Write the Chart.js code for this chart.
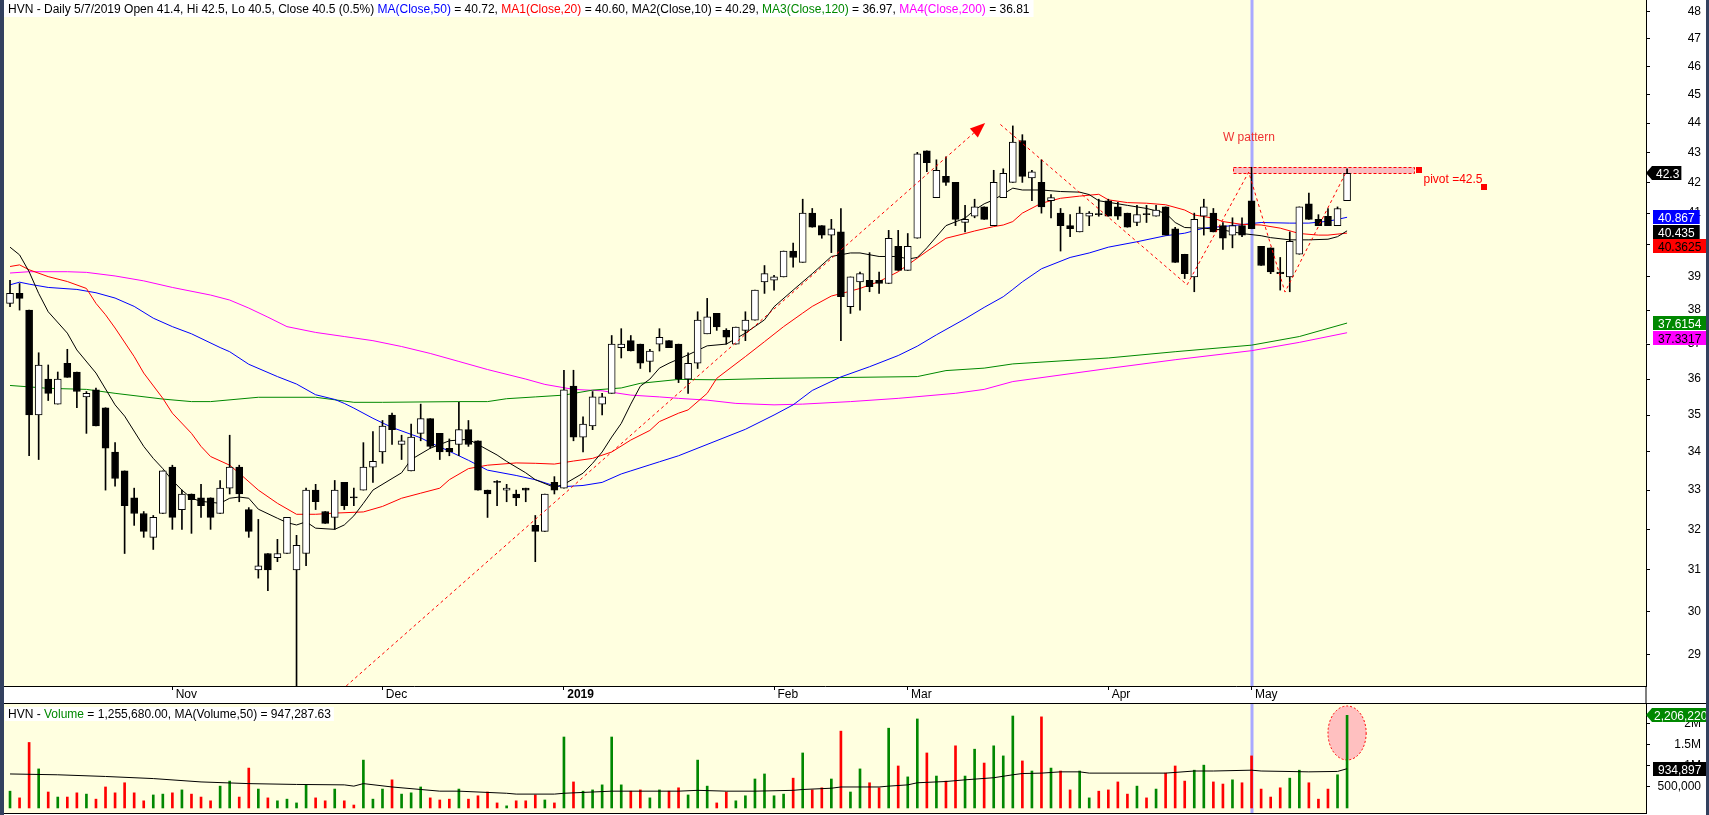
<!DOCTYPE html>
<html><head><meta charset="utf-8">
<script src="https://cdn.jsdelivr.net/npm/chart.js@4.4.1/dist/chart.umd.min.js"></script>
<style>
html,body{margin:0;padding:0;background:#ffffff;overflow:hidden;}
#wrap{position:relative;width:1709px;height:815px;background:#fff;}
#c1{position:absolute;left:0;top:0;}
#c2{position:absolute;left:0;top:703px;}
</style></head><body>
<div id="wrap">
<canvas id="c1" width="1709" height="703"></canvas>
<canvas id="c2" width="1709" height="112"></canvas>
</div>
<script>
// ---------------- DATA (HVN daily, trading-day index 0..140) ----------------
const O = [38.2,38.5,38.0,35.0,36.0,35.3,36.45,36.2,35.5,35.7,
35.2,34.0,33.5,32.8,32.4,31.8,32.4,33.6,32.5,32.9,
32.8,32.8,32.4,33.05,33.6,32.5,31.0,31.4,31.3,31.4,
31.0,31.4,33.0,32.45,32.3,33.2,32.8,33.0,33.6,34.0,
35.0,34.2,33.5,34.5,34.9,34.5,34.1,34.2,34.6,34.3,
33.0,33.2,33.0,32.9,33.05,32.1,31.95,33.2,33.05,35.8,
34.4,34.7,35.3,35.6,36.9,37.1,37.0,36.5,37.0,37.1,
37.0,36.0,36.45,37.3,37.9,37.4,37.0,37.4,37.7,38.85,
38.9,39.0,39.8,39.45,41.0,40.6,40.3,40.4,38.1,38.85,
38.9,38.9,38.8,39.95,39.2,40.2,43.05,41.5,42.2,42.0,
40.7,40.9,41.2,40.6,41.5,42.0,43.4,42.15,42.0,41.4,
41.0,40.6,40.4,40.9,40.95,41.4,41.2,41.0,40.7,40.95,
40.9,41.2,40.5,39.7,39.0,40.9,41.0,40.6,40.3,40.6,
41.4,39.95,39.9,39.15,39.0,39.7,41.3,40.8,40.9,40.6,
41.4];
const H = [38.9,38.8,38.0,36.75,36.4,36.2,36.85,36.2,35.65,35.75,
35.2,34.25,33.5,33.05,32.45,32.35,33.5,33.65,33.0,32.9,
33.15,32.8,33.25,34.45,33.65,32.55,32.25,31.4,31.75,32.3,
31.85,33.05,33.15,32.45,33.25,33.2,33.05,34.25,34.55,34.85,
35.05,34.45,34.75,35.3,34.9,34.5,34.35,35.35,34.85,34.3,
33.0,33.25,33.15,33.0,33.05,32.35,32.9,33.35,36.25,36.25,
34.95,35.65,35.6,37.25,37.45,37.25,37.0,36.85,37.45,37.1,
37.0,36.75,37.95,38.35,37.9,37.45,37.5,37.95,38.6,39.35,
39.05,39.8,40.05,41.45,41.15,40.6,40.8,41.15,39.0,39.15,
39.75,39.15,40.45,40.45,40.35,43.0,43.05,42.75,42.85,42.0,
41.25,41.45,41.2,42.4,42.45,43.9,43.6,42.4,42.75,41.6,
41.15,40.95,41.2,41.05,41.45,41.45,41.35,41.0,41.25,41.25,
41.25,41.2,40.55,39.7,41.0,41.45,41.15,40.7,40.85,40.85,
42.5,39.95,39.9,39.6,40.4,41.2,41.65,40.95,41.15,41.2,
42.45];
const L = [38.1,38.0,33.9,33.8,35.4,35.3,36.05,35.2,34.5,34.7,
33.0,33.1,31.4,32.1,31.8,31.5,32.4,32.0,32.0,31.9,
32.3,32.0,32.4,32.9,32.7,31.8,30.8,30.5,31.2,31.4,
28.0,31.1,32.5,32.15,32.0,32.5,32.6,33.0,33.2,33.7,
34.2,33.8,33.5,34.3,34.1,33.8,33.9,33.9,34.15,33.0,
32.3,32.6,32.7,32.6,32.7,31.2,31.95,32.9,33.05,34.3,
34.0,34.6,35.0,35.6,36.6,36.8,36.3,36.2,36.8,36.9,
35.9,35.6,36.3,37.3,37.4,37.0,37.0,37.1,37.7,38.5,
38.6,39.0,39.3,39.45,40.55,40.2,39.75,37.1,37.9,38.0,
38.55,38.5,38.8,39.2,39.2,40.2,42.35,41.5,41.9,40.6,
40.4,40.85,40.8,40.6,41.5,42.0,42.0,41.4,41.0,40.85,
39.8,40.25,40.4,40.6,40.9,40.9,40.8,40.55,40.6,40.7,
40.9,40.3,39.45,38.95,38.55,40.3,40.4,39.85,39.9,40.25,
40.5,39.35,39.1,38.6,38.55,39.7,40.8,40.6,40.6,40.6,
41.4];
const C = [38.5,38.35,35.0,36.4,35.6,36.0,36.05,35.65,35.6,34.7,
34.1,33.3,32.6,32.4,31.95,32.3,33.5,32.3,32.9,32.75,
32.6,32.3,33.05,33.6,32.9,31.95,31.1,31.0,31.4,32.3,
31.6,33.0,32.7,32.15,33.0,32.6,32.8,33.6,33.75,34.7,
34.6,34.3,34.4,34.9,34.15,34.0,34.0,34.6,34.2,33.0,
32.9,33.2,33.05,32.8,33.0,31.95,32.9,33.0,35.7,34.4,
34.75,35.5,35.5,37.0,37.0,36.8,36.45,36.8,37.2,36.9,
36.0,36.45,37.7,37.8,37.5,37.2,37.5,37.7,38.6,39.1,
39.0,39.8,39.6,41.0,40.55,40.3,40.5,38.4,39.0,39.1,
38.7,38.8,40.2,39.2,39.95,42.95,42.65,42.4,42.0,40.8,
40.8,41.2,40.8,42.0,42.3,43.35,42.2,42.35,41.2,41.5,
40.6,40.5,41.0,41.0,40.95,40.9,40.9,40.55,40.95,40.95,
41.1,40.3,39.45,39.1,40.8,41.2,40.4,40.2,40.6,40.3,
40.5,39.35,39.15,39.1,40.1,41.2,40.8,40.6,40.6,41.15,
42.3];
// volume in millions of shares
const VOL = [0.40,0.24,1.56,0.93,0.38,0.26,0.26,0.36,0.33,0.21,
0.50,0.36,0.60,0.36,0.17,0.31,0.33,0.36,0.43,0.33,
0.26,0.17,0.52,0.64,0.26,0.95,0.45,0.24,0.17,0.21,
0.12,0.55,0.24,0.17,0.45,0.17,0.07,1.14,0.21,0.45,
0.67,0.33,0.36,0.50,0.24,0.19,0.21,0.45,0.21,0.29,
0.38,0.12,0.05,0.17,0.17,0.31,0.19,0.12,1.69,0.62,
0.40,0.43,0.55,1.69,0.55,0.40,0.43,0.24,0.43,0.40,
0.48,0.31,1.14,0.52,0.12,0.38,0.17,0.29,0.69,0.81,
0.29,0.33,0.71,1.31,0.43,0.48,0.69,1.83,0.38,0.93,
0.60,0.48,1.90,1.00,0.74,2.12,1.31,0.76,0.64,1.48,
0.76,1.40,1.07,1.48,1.24,2.19,1.12,0.88,2.17,0.95,
0.88,0.43,0.88,0.24,0.40,0.43,0.62,0.33,0.52,0.24,
0.45,0.83,1.00,0.64,0.90,1.02,0.62,0.57,0.67,0.60,
1.24,0.45,0.26,0.48,0.71,0.90,0.60,0.21,0.45,0.79,
2.206];
// moving averages: [bar index, value]
const MA10 = [[0,39.92],[1,39.68],[2,39.16],[3,38.5],[4,37.95],[6,37.32],[7,36.83],[9,36.17],[11,35.28],[12,34.97],[14,34.15],[15,33.83],[16,33.56],[17,33.25],[18,33.0],[19,32.79],[20,32.71],[22,32.66],[23,32.79],[24,32.82],[25,32.79],[26,32.51],[28,32.28],[29,32.17],[30,32.11],[31,32.19],[32,32.03],[34,32.0],[35,32.11],[36,32.34],[37,32.66],[38,33.0],[40,33.3],[41,33.45],[42,33.8],[44,34.1],[45,34.2],[46,34.3],[48,34.34],[49,34.2],[51,33.92],[52,33.75],[54,33.45],[55,33.27],[57,33.07],[58,33.15],[60,33.44],[61,33.7],[62,34.0],[63,34.4],[64,34.77],[65,35.3],[66,35.8],[67,36.0],[68,36.31],[69,36.45],[71,36.69],[73,36.95],[75,37.0],[77,37.32],[79,37.71],[80,38.1],[82,38.6],[84,39.1],[86,39.63],[88,39.74],[89,39.74],[91,39.63],[93,39.63],[94,39.55],[95,39.6],[96,39.9],[98,40.6],[100,40.84],[101,41.1],[102,41.3],[103,41.43],[105,41.81],[106,41.75],[108,41.75],[110,41.7],[112,41.68],[113,41.6],[114,41.4],[115,41.35],[117,41.25],[119,41.15],[121,41.0],[122,40.7],[123,40.54],[125,40.52],[127,40.46],[129,40.35],[131,40.28],[132,40.22],[134,40.15],[136,40.15],[138,40.17],[139,40.25],[140,40.435]];
const MA20 = [[0,39.32],[1,39.37],[2,39.22],[4,39.01],[6,38.86],[8,38.65],[9,38.2],[10,37.86],[11,37.47],[13,36.64],[14,36.17],[16,35.46],[17,35.05],[19,34.5],[20,34.15],[21,33.88],[23,33.65],[24,33.44],[26,33.0],[28,32.66],[30,32.38],[32,32.38],[34,32.41],[37,32.44],[39,32.58],[41,32.79],[43,32.92],[45,33.05],[46,33.27],[48,33.56],[50,33.65],[53,33.71],[55,33.7],[57,33.68],[59,33.76],[61,33.83],[63,34.0],[65,34.32],[67,34.58],[68,34.82],[70,35.05],[71,35.14],[73,35.6],[74,36.02],[77,36.64],[79,37.07],[81,37.51],[83,37.91],[84,38.11],[86,38.42],[88,38.57],[89,38.65],[91,38.86],[93,39.16],[94,39.37],[96,39.79],[98,40.2],[100,40.35],[101,40.43],[103,40.57],[104,40.62],[105,40.73],[106,41.0],[108,41.32],[110,41.48],[112,41.55],[114,41.61],[115,41.43],[117,41.34],[119,41.32],[121,41.27],[123,41.1],[124,40.94],[126,40.84],[127,40.73],[129,40.64],[131,40.62],[133,40.52],[135,40.35],[137,40.3],[138,40.3],[140,40.3625]];
const MA50 = [[0,38.76],[1,38.84],[2,38.78],[4,38.68],[7,38.62],[9,38.52],[11,38.36],[13,38.11],[15,37.76],[17,37.51],[19,37.3],[22,36.9],[23,36.78],[25,36.42],[28,36.07],[30,35.86],[32,35.56],[34,35.43],[35,35.32],[36,35.19],[38,34.91],[40,34.66],[43,34.38],[44,34.25],[46,34.02],[48,33.78],[50,33.52],[53,33.38],[55,33.27],[57,33.11],[58,33.09],[60,33.12],[62,33.2],[64,33.42],[65,33.5],[67,33.66],[68,33.74],[70,33.9],[77,34.61],[80,35.0],[82,35.28],[84,35.68],[87,36.06],[90,36.35],[93,36.67],[95,36.94],[97,37.27],[100,37.74],[102,38.08],[104,38.4],[105,38.62],[106,38.85],[108,39.25],[111,39.6],[113,39.74],[115,39.92],[118,40.09],[121,40.28],[123,40.36],[125,40.52],[128,40.6],[131,40.7],[134,40.68],[136,40.68],[138,40.74],[139,40.8],[140,40.867]];
const MA120 = [[0,35.82],[4,35.74],[8,35.71],[11,35.6],[16,35.44],[19,35.37],[21,35.37],[26,35.49],[32,35.49],[34,35.42],[36,35.35],[39,35.35],[47,35.37],[50,35.37],[52,35.45],[55,35.5],[58,35.55],[61,35.69],[64,35.75],[66,35.88],[70,35.99],[74,35.98],[80,36.02],[95,36.07],[98,36.24],[102,36.31],[105,36.43],[115,36.6],[122,36.78],[130,36.97],[135,37.22],[140,37.6154]];
const MA200 = [[0,39.12],[2,39.16],[6,39.16],[8,39.14],[11,39.03],[14,38.88],[17,38.68],[21,38.45],[23,38.3],[25,38.06],[27,37.79],[29,37.51],[32,37.34],[35,37.22],[38,37.1],[41,36.93],[44,36.73],[47,36.5],[50,36.27],[54,36.0],[56,35.85],[59,35.71],[62,35.67],[65,35.55],[68,35.5],[70,35.46],[73,35.41],[76,35.32],[80,35.28],[83,35.3],[88,35.37],[93,35.46],[99,35.6],[102,35.71],[105,35.93],[115,36.3],[122,36.55],[130,36.81],[135,37.05],[140,37.3317]];
const VOLMA = [[0,0.81],[5,0.79],[10,0.75],[15,0.70],[20,0.62],[25,0.58],[30,0.56],[35,0.55],[36,0.52],[37,0.58],[40,0.50],[43,0.44],[45,0.40],[47,0.40],[52,0.35],[53,0.33],[57,0.33],[58,0.35],[63,0.40],[70,0.40],[72,0.42],[75,0.40],[78,0.40],[82,0.42],[83,0.44],[86,0.47],[87,0.50],[91,0.50],[92,0.52],[94,0.55],[95,0.60],[98,0.63],[100,0.67],[103,0.72],[105,0.79],[106,0.82],[108,0.83],[110,0.86],[112,0.86],[113,0.83],[121,0.83],[124,0.88],[126,0.88],[130,0.90],[131,0.88],[136,0.86],[139,0.87],[140,0.9349]];

// axis ticks / labels
const MONTH_IDX = [17,39,58,80,94,115,130];
const MONTH_LBL = ['Nov','Dec','2019','Feb','Mar','Apr','May'];
const PRICE_TICKS = [29,30,31,32,33,34,35,36,37,38,39,40,41,42,43,44,45,46,47,48];
const VOL_TICKS = [0.5,1,1.5,2];
const VOL_TICK_LBL = ['500,000','1M','1.5M','2M'];

// last-value tags on the price axis
const LAST_CLOSE = 42.3;
const MA_TAG_VAL = [40.867, 40.435, 40.3625, 37.6154, 37.3317];
const MA_TAG_TXT = ['40.867','40.435','40.3625','37.6154','37.3317'];
const MA_TAG_BG  = ['#0000FF','#000000','#FF0000','#008800','#FF00FF'];
const MA_TAG_FG  = ['#FFFFFF','#FFFFFF','#000000','#FFFFFF','#000000'];
const VOL_LAST = 2.20622, VOL_LAST_TXT = '2,206,220';
const VOLMA_LAST = 0.934897, VOLMA_LAST_TXT = '934,897';

// drawings (data units: bar index, price)
const CURSOR = 130;
const TREND = [[35.2, 28.303], [102.1, 44.0]];
const W_LINE = [[103.7, 43.95], [123.25, 38.76], [129.7, 42.34], [133.5, 38.54], [139.9, 42.34]];
const PIVOT_BAND = [128.1, 147.1, 42.3, 42.5];
const PIVOT_MARKS = [[147.5, 42.4], [154.3, 41.86]];
const PIVOT_TEXT = ['pivot =42.5', 148.0, 41.98];
const W_TEXT = ['W pattern', 127.0, 43.39];
const VOL_ELLIPSE = [140, 1.786, 2.0, 0.643];

const HEAD = [
 ['HVN - Daily 5/7/2019 Open 41.4, Hi 42.5, Lo 40.5, Close 40.5 (0.5%) ', '#000000'],
 ['MA(Close,50)', '#0000FF'], [' = 40.72, ', '#000000'],
 ['MA1(Close,20)', '#FF0000'], [' = 40.60, ', '#000000'],
 ['MA2(Close,10)', '#000000'], [' = 40.29, ', '#000000'],
 ['MA3(Close,120)', '#008800'], [' = 36.97, ', '#000000'],
 ['MA4(Close,200)', '#FF00FF'], [' = 36.81', '#000000']
];
const VHEAD = [['HVN - ', '#000000'], ['Volume', '#008800'], [' = 1,255,680.00, MA(Volume,50) = 947,287.63', '#000000']];

// ---------------- RENDERING ----------------
const FONT = "'Liberation Sans', Arial, sans-serif";
Chart.defaults.font.family = FONT;
Chart.defaults.font.size = 12;
Chart.defaults.color = '#000';

const idx = O.map((_, i) => i);
const up = idx.map(i => C[i] > O[i]);
const toXY = a => a.map(p => ({x: p[0], y: p[1]}));
const XMIN = -0.63, XMAX = 171.3;
const FRAME = '#33415F';
const AXIS_W = 55, RIGHT_PAD = 8;

function lineDS(arr, color, order) {
  return {type: 'line', data: toXY(arr), borderColor: color, borderWidth: 1, pointRadius: 0, tension: 0, order: order, fill: false};
}
function segs(ctx, list, x, y) {
  for (const s of list) { ctx.fillStyle = s[1]; ctx.fillText(s[0], x, y); x += ctx.measureText(s[0]).width; }
}
function segsWidth(ctx, list) { return list.reduce((w, s) => w + ctx.measureText(s[0]).width, 0); }

const mainPlugin = {
  id: 'mainDeco',
  beforeDraw(chart) {
    const {ctx, chartArea: a, width, height} = chart;
    ctx.save();
    ctx.fillStyle = '#FFFFFF'; ctx.fillRect(0, 0, width, height);
    ctx.fillStyle = '#FFFFE0'; ctx.fillRect(a.left, a.top, a.right - a.left, a.bottom - a.top);
    ctx.restore();
  },
  beforeDatasetsDraw(chart) {
    const {ctx, chartArea: a, scales: {x, y}} = chart;
    ctx.save();
    ctx.beginPath(); ctx.rect(a.left, a.top, a.right - a.left, a.bottom - a.top); ctx.clip();
    const cx = Math.round(x.getPixelForValue(CURSOR));
    ctx.fillStyle = '#A9A9FF'; ctx.fillRect(cx - 1.5, a.top, 3, a.bottom - a.top);
    // pivot band
    const bx0 = x.getPixelForValue(PIVOT_BAND[0]), bx1 = x.getPixelForValue(PIVOT_BAND[1]);
    const by0 = y.getPixelForValue(PIVOT_BAND[3]), by1 = y.getPixelForValue(PIVOT_BAND[2]);
    ctx.fillStyle = '#F7BCC0'; ctx.fillRect(bx0, by0, bx1 - bx0, by1 - by0);
    ctx.strokeStyle = '#FF0000'; ctx.lineWidth = 1; ctx.setLineDash([3, 2]);
    ctx.strokeRect(Math.round(bx0) + 0.5, Math.round(by0) + 0.5, Math.round(bx1 - bx0), Math.round(by1 - by0));
    ctx.restore();
  },
  afterDatasetsDraw(chart) {
    const {ctx, chartArea: a, scales: {x, y}} = chart;
    ctx.save();
    ctx.beginPath(); ctx.rect(a.left, a.top, a.right - a.left, a.bottom - a.top); ctx.clip();
    ctx.strokeStyle = '#FF0000'; ctx.fillStyle = '#FF0000'; ctx.lineWidth = 1;
    // trend line with arrow
    const x0 = x.getPixelForValue(TREND[0][0]), y0 = y.getPixelForValue(TREND[0][1]);
    const x1 = x.getPixelForValue(TREND[1][0]), y1 = y.getPixelForValue(TREND[1][1]);
    const len = Math.hypot(x1 - x0, y1 - y0), ux = (x1 - x0) / len, uy = (y1 - y0) / len;
    const hl = 15, hw = 6, bx = x1 - ux * hl, by = y1 - uy * hl;
    ctx.setLineDash([3, 3]); ctx.beginPath(); ctx.moveTo(x0, y0); ctx.lineTo(bx, by); ctx.stroke();
    ctx.setLineDash([]); ctx.beginPath(); ctx.moveTo(x1, y1);
    ctx.lineTo(bx - uy * hw, by + ux * hw); ctx.lineTo(bx + uy * hw, by - ux * hw); ctx.closePath(); ctx.fill();
    // W pattern
    ctx.setLineDash([3, 3]); ctx.beginPath();
    W_LINE.forEach((p, k) => { const px = x.getPixelForValue(p[0]), py = y.getPixelForValue(p[1]); k ? ctx.lineTo(px, py) : ctx.moveTo(px, py); });
    ctx.stroke(); ctx.setLineDash([]);
    ctx.restore();
    // texts & marks (not clipped)
    ctx.save();
    ctx.font = '12px ' + FONT; ctx.textBaseline = 'alphabetic';
    ctx.fillStyle = '#EE3333';
    ctx.fillText(W_TEXT[0], x.getPixelForValue(W_TEXT[1]), y.getPixelForValue(W_TEXT[2]));
    ctx.fillStyle = '#FF0000';
    ctx.fillText(PIVOT_TEXT[0], x.getPixelForValue(PIVOT_TEXT[1]), y.getPixelForValue(PIVOT_TEXT[2]));
    PIVOT_MARKS.forEach(p => { ctx.fillRect(Math.round(x.getPixelForValue(p[0])) - 3, Math.round(y.getPixelForValue(p[1])) - 3, 6, 6); });
    ctx.restore();
  },
  afterDraw(chart) {
    const {ctx, chartArea: a, scales: {y}, width, height} = chart;
    ctx.save();
    ctx.font = '12px ' + FONT; ctx.textBaseline = 'alphabetic';
    // header
    const hw = segsWidth(ctx, HEAD);
    ctx.fillStyle = '#FFFFFF'; ctx.fillRect(4, 0, hw + 8, 17);
    segs(ctx, HEAD, 8, 13);
    // last close tag
    let yc = Math.round(y.getPixelForValue(LAST_CLOSE));
    const tw = ctx.measureText('42.3').width;
    ctx.fillStyle = '#000000'; ctx.beginPath();
    ctx.moveTo(a.right, yc); ctx.lineTo(a.right + 6, yc - 7); ctx.lineTo(a.right + 12 + tw, yc - 7);
    ctx.lineTo(a.right + 12 + tw, yc + 7); ctx.lineTo(a.right + 6, yc + 7); ctx.closePath(); ctx.fill();
    ctx.fillStyle = '#FFFFFF'; ctx.fillText('42.3', a.right + 10, yc + 4.5);
    // MA tags
    const tags = MA_TAG_VAL.map((v, k) => ({k, y: y.getPixelForValue(v)})).sort((p, q) => p.y - q.y);
    for (let k = 1; k < tags.length; k++) if (tags[k].y < tags[k - 1].y + 14.5) tags[k].y = tags[k - 1].y + 14.5;
    tags.forEach(t => {
      const txt = MA_TAG_TXT[t.k], w = ctx.measureText(txt).width + 10, yy = Math.round(t.y);
      ctx.fillStyle = MA_TAG_BG[t.k]; ctx.fillRect(a.right + 7, yy - 7, w, 14);
      ctx.fillStyle = MA_TAG_FG[t.k]; ctx.fillText(txt, a.right + 12, yy + 4.5);
    });
    // axis line through the date strip
    ctx.fillStyle = '#000000'; ctx.fillRect(Math.round(a.right) - 0.5, a.bottom, 1, height - a.bottom);
    // frame
    ctx.fillStyle = FRAME; ctx.fillRect(0, 0, 4, height); ctx.fillRect(width - 3, 0, 3, height);
    ctx.restore();
  }
};

new Chart(document.getElementById('c1'), {
  type: 'bar',
  data: {datasets: [
    {type: 'bar', data: idx.map(i => ({x: i, y: [O[i], C[i]]})), backgroundColor: idx.map(i => up[i] ? '#FFFFFF' : '#000000'),
     borderColor: '#000000', borderWidth: 1, borderSkipped: false, barThickness: 7, grouped: false, minBarLength: 1, order: 0},
    {type: 'bar', data: idx.map(i => ({x: i, y: [L[i], H[i]]})), backgroundColor: '#000000', borderWidth: 0,
     barThickness: 1, grouped: false, order: 1},
    lineDS(MA10, '#000000', 2), lineDS(MA20, '#FF0000', 3), lineDS(MA50, '#0000FF', 4),
    lineDS(MA120, '#008800', 5), lineDS(MA200, '#FF00FF', 6)
  ]},
  options: {
    responsive: false, animation: false, events: [],
    layout: {padding: {left: 4, right: RIGHT_PAD, top: 0, bottom: 0}, autoPadding: false},
    plugins: {legend: {display: false}, tooltip: {enabled: false}},
    scales: {
      x: {type: 'linear', min: XMIN, max: XMAX, offset: false, bounds: 'data',
          afterBuildTicks: s => { s.ticks = MONTH_IDX.map(v => ({value: v})); },
          afterFit: s => { s.height = 17; s.paddingLeft = 0; s.paddingRight = 0; },
          ticks: {autoSkip: false, maxRotation: 0, minRotation: 0, align: 'start', padding: -3, color: '#000',
                  callback: v => { const k = MONTH_IDX.indexOf(v); return k >= 0 ? ' ' + MONTH_LBL[k] : ''; },
                  font: c => ({family: FONT, size: 12, weight: (c.tick && c.tick.value === 58) ? 'bold' : 'normal'})},
          grid: {drawOnChartArea: false, drawTicks: true, tickLength: 4, color: '#000', offset: false},
          border: {display: true, color: '#000'}},
      y: {type: 'logarithmic', position: 'right', min: 28.303, max: 48.4535, bounds: 'data',
          afterBuildTicks: s => { s.ticks = PRICE_TICKS.map(v => ({value: v})); },
          afterFit: s => { s.width = AXIS_W; s.paddingTop = 0; s.paddingBottom = 0; },
          ticks: {autoSkip: false, crossAlign: 'far', padding: 4, color: '#000', callback: v => String(v),
                  font: {family: FONT, size: 12}},
          grid: {drawOnChartArea: false, drawTicks: true, tickLength: 4, color: '#000'},
          border: {display: true, color: '#000'}}
    }
  },
  plugins: [mainPlugin]
});

const volPlugin = {
  id: 'volDeco',
  beforeDraw(chart) {
    const {ctx, chartArea: a, width, height} = chart;
    ctx.save();
    ctx.fillStyle = '#FFFFFF'; ctx.fillRect(0, 0, width, height);
    ctx.fillStyle = '#FFFFE0'; ctx.fillRect(a.left, a.top, a.right - a.left, a.bottom - a.top);
    ctx.restore();
  },
  beforeDatasetsDraw(chart) {
    const {ctx, chartArea: a, scales: {x, y}} = chart;
    ctx.save();
    ctx.beginPath(); ctx.rect(a.left, a.top, a.right - a.left, a.bottom - a.top); ctx.clip();
    const cx = Math.round(x.getPixelForValue(CURSOR));
    ctx.fillStyle = '#A9A9FF'; ctx.fillRect(cx - 1.5, a.top, 3, a.bottom - a.top);
    const ex = x.getPixelForValue(VOL_ELLIPSE[0]), ey = y.getPixelForValue(VOL_ELLIPSE[1]);
    const rx = Math.abs(x.getPixelForValue(VOL_ELLIPSE[0] + VOL_ELLIPSE[2]) - ex);
    const ry = Math.abs(y.getPixelForValue(VOL_ELLIPSE[1] + VOL_ELLIPSE[3]) - ey);
    ctx.beginPath(); ctx.ellipse(ex, ey, rx, ry, 0, 0, Math.PI * 2);
    ctx.fillStyle = '#FFC0C0'; ctx.fill();
    ctx.strokeStyle = '#FF0000'; ctx.lineWidth = 1; ctx.setLineDash([2, 2]); ctx.stroke();
    ctx.restore();
  },
  afterDraw(chart) {
    const {ctx, chartArea: a, scales: {y}, width, height} = chart;
    ctx.save();
    ctx.font = '12px ' + FONT; ctx.textBaseline = 'alphabetic';
    const hw = segsWidth(ctx, VHEAD);
    ctx.fillStyle = '#FFFFFF'; ctx.fillRect(5, 4, hw + 6, 14);
    segs(ctx, VHEAD, 8, 15);
    // tags
    let yc = Math.round(y.getPixelForValue(VOL_LAST));
    ctx.fillStyle = '#008800'; ctx.beginPath();
    ctx.moveTo(a.right, yc); ctx.lineTo(a.right + 6, yc - 7); ctx.lineTo(width, yc - 7);
    ctx.lineTo(width, yc + 7); ctx.lineTo(a.right + 6, yc + 7); ctx.closePath(); ctx.fill();
    ctx.fillStyle = '#FFFFFF'; ctx.fillText(VOL_LAST_TXT, a.right + 8, yc + 4.5);
    yc = Math.round(y.getPixelForValue(VOLMA_LAST));
    const w2 = ctx.measureText(VOLMA_LAST_TXT).width + 10;
    ctx.fillStyle = '#000000'; ctx.fillRect(a.right + 7, yc - 7, w2, 14);
    ctx.fillStyle = '#FFFFFF'; ctx.fillText(VOLMA_LAST_TXT, a.right + 12, yc + 4.5);
    // borders
    ctx.fillStyle = '#000000';
    ctx.fillRect(0, 0, width, 1);
    ctx.fillRect(a.left, Math.round(a.bottom), a.right - a.left, 1);
    ctx.fillStyle = FRAME; ctx.fillRect(0, 0, 4, height); ctx.fillRect(width - 3, 0, 3, height);
    ctx.restore();
  }
};

new Chart(document.getElementById('c2'), {
  type: 'bar',
  data: {datasets: [
    {type: 'bar', data: idx.map(i => ({x: i, y: VOL[i]})), backgroundColor: idx.map(i => up[i] ? '#008800' : '#FF0000'),
     borderWidth: 0, barThickness: 2, grouped: false, order: 1},
    {type: 'line', data: toXY(VOLMA), borderColor: '#000000', borderWidth: 1, pointRadius: 0, tension: 0, order: 0}
  ]},
  options: {
    responsive: false, animation: false, events: [],
    layout: {padding: {left: 4, right: RIGHT_PAD, top: 0, bottom: 2}, autoPadding: false},
    plugins: {legend: {display: false}, tooltip: {enabled: false}},
    scales: {
      x: {type: 'linear', min: XMIN, max: XMAX, offset: false, bounds: 'data', display: false},
      y: {type: 'linear', position: 'right', min: -0.12, max: 2.5, bounds: 'data',
          afterBuildTicks: s => { s.ticks = VOL_TICKS.map(v => ({value: v})); },
          afterFit: s => { s.width = AXIS_W; s.paddingTop = 0; s.paddingBottom = 0; },
          ticks: {autoSkip: false, crossAlign: 'far', padding: 4, color: '#000',
                  callback: v => { const k = VOL_TICKS.indexOf(v); return k >= 0 ? VOL_TICK_LBL[k] : ''; },
                  font: {family: FONT, size: 12}},
          grid: {drawOnChartArea: false, drawTicks: true, tickLength: 4, color: '#000'},
          border: {display: true, color: '#000'}}
    }
  },
  plugins: [volPlugin]
});
</script>
</body></html>
